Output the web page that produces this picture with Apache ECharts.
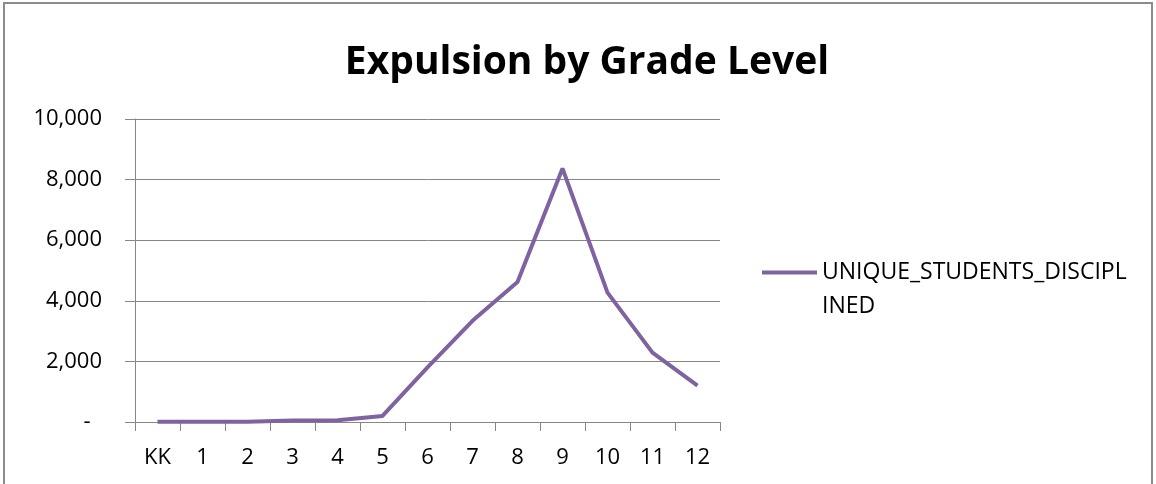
<!DOCTYPE html>
<html>
<head>
<meta charset="utf-8">
<script src="https://cdn.jsdelivr.net/npm/echarts@6/dist/echarts.min.js"></script>
<style>
  html, body { margin: 0; padding: 0; background: #fff; }
  #frame { position: absolute; left: 3px; top: 2px; width: 1146px; height: 490px; border: 2px solid #8c8c8c; }
  #expulsion { position: absolute; left: 0; top: 0; width: 1156px; height: 484px; }
</style>
</head>
<body>
<div id="frame"></div>
<div id="expulsion"></div>
<script>
  // grade levels and number of students disciplined
  const grades = ['KK', '1', '2', '3', '4', '5', '6', '7', '8', '9', '10', '11', '12'];
  const students = [5, 5, 10, 50, 60, 200, 1800, 3340, 4620, 8370, 4270, 2290, 1200];
  const seriesName = 'UNIQUE_STUDENTS_DISCIPLINED';

  const myChart = echarts.init(document.getElementById('expulsion'));
  const font = 'Open Sans';

  const options = {
    animation: false,
    title: {
      text: 'Expulsion by Grade Level',
      left: 582,
      textAlign: 'center',
      top: 38,
      textStyle: { fontFamily: font, fontSize: 39, fontWeight: 'bold', color: '#000' }
    },
    grid: { left: 135, right: 436, top: 119, bottom: 62, containLabel: false },
    legend: {
      left: 762,
      top: 261,
      padding: 0,
      icon: 'rect',
      itemWidth: 55,
      itemHeight: 4,
      formatter: function (name) {
        // excel wraps the long name onto a second line
        return '{a|UNIQUE_STUDENTS_DISCIPL}\n{b|INED}';
      },
      textStyle: {
        fontFamily: font, fontSize: 23, color: '#000',
        rich: {
          a: { fontFamily: font, fontSize: 23, color: '#000', lineHeight: 68 },
          b: { fontFamily: font, fontSize: 23, color: '#000', lineHeight: 0.01 }
        }
      },
      data: [seriesName]
    },
    xAxis: {
      type: 'category',
      data: grades,
      boundaryGap: true,
      axisLine: { lineStyle: { color: '#868686', width: 1 } },
      axisTick: { show: true, length: 9, lineStyle: { color: '#868686' } },
      axisLabel: { fontFamily: font, fontSize: 22, color: '#000', margin: 25 }
    },
    yAxis: {
      type: 'value',
      min: 0,
      max: 10000,
      interval: 2000,
      axisLine: { show: true, lineStyle: { color: '#868686', width: 1 } },
      axisTick: { show: true, length: 10, lineStyle: { color: '#868686' } },
      splitLine: { show: true, lineStyle: { color: '#868686', width: 1 } },
      axisLabel: {
        fontFamily: font, fontSize: 22, color: '#000', margin: 33,
        formatter: function (v) {
          return v === 0 ? '-  ' : v.toLocaleString('en-US');
        }
      }
    },
    series: [{
      name: seriesName,
      type: 'line',
      data: students,
      symbol: 'none',
      lineStyle: { color: '#7f63a1', width: 4 },
      itemStyle: { color: '#7f63a1' }
    }]
  };
  myChart.setOption(options, true);
</script>
</body>
</html>
